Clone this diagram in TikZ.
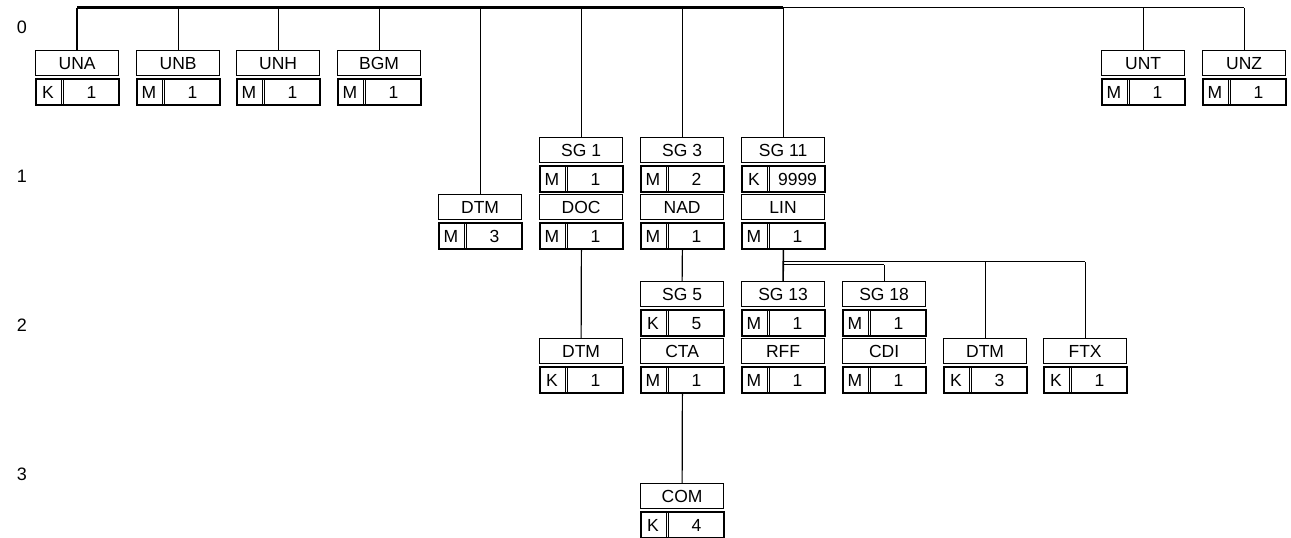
\documentclass[tikz,border=0pt]{standalone}
\usepackage{fontspec}
\setmainfont{Liberation Sans}
\newcommand\bx[6]{% name, x left, y top, label, status, count
  \node[segbox] (#1) at (#2,#3) {#4};
  \node[cntbox] (#1c) at (#2,#3+28) {};
  \draw[divline] ([xshift=26pt]#1c.north west) -- ([xshift=26pt]#1c.south west);
  \draw[divline] ([xshift=28.8pt]#1c.north west) -- ([xshift=28.8pt]#1c.south west);
  \node[btxt] (#1s) at ([xshift=13pt]#1c.west) {#5};
  \node[btxt] (#1n) at ([xshift=56.5pt]#1c.west) {#6};
}
\begin{document}
\begin{tikzpicture}[x=1pt,y=-1pt,
  segbox/.style={draw, line width=1.2pt, minimum width=83pt, minimum height=25pt,
    inner sep=0pt, anchor=north west, font=\fontsize{17.5}{17.5}\selectfont,
    text height=12.5pt, text depth=0pt},
  cntbox/.style={draw, line width=1.8pt, minimum width=83pt, minimum height=26pt,
    inner sep=0pt, anchor=north west},
  divline/.style={line width=1pt},
  btxt/.style={inner sep=0pt, font=\fontsize{17.5}{17.5}\selectfont,
    text height=12.5pt, text depth=0pt},
  lbl/.style={inner sep=0pt, font=\fontsize{18}{18}\selectfont},
  link/.style={line width=1.2pt},
  boldlink/.style={line width=2.2pt}]
\useasboundingbox (0,0) rectangle (1291,538);

% row labels
\node[lbl] (r0) at (22,27) {0};
\node[lbl] (r1) at (22,176) {1};
\node[lbl] (r2) at (22,325) {2};
\node[lbl] (r3) at (22,474) {3};

% row 0
\bx{una}{35}{50}{UNA}{K}{1}
\bx{unb}{136}{50}{UNB}{M}{1}
\bx{unh}{236}{50}{UNH}{M}{1}
\bx{bgm}{337}{50}{BGM}{M}{1}
\bx{unt}{1101}{50}{UNT}{M}{1}
\bx{unz}{1202}{50}{UNZ}{M}{1}

% row 1
\bx{dtma}{438}{194}{DTM}{M}{3}
\bx{sga}{539}{137}{SG 1}{M}{1}
\bx{doc}{539}{194}{DOC}{M}{1}
\bx{sgc}{640}{137}{SG 3}{M}{2}
\bx{nad}{640}{194}{NAD}{M}{1}
\bx{sgk}{741}{137}{SG 11}{K}{9999}
\bx{lin}{741}{194}{LIN}{M}{1}

% row 2
\bx{dtmb}{539}{338}{DTM}{K}{1}
\bx{sge}{640}{281}{SG 5}{K}{5}
\bx{cta}{640}{338}{CTA}{M}{1}
\bx{sgm}{741}{281}{SG 13}{M}{1}
\bx{rff}{741}{338}{RFF}{M}{1}
\bx{sgr}{842}{281}{SG 18}{M}{1}
\bx{cdi}{842}{338}{CDI}{M}{1}
\bx{dtmc}{943}{338}{DTM}{K}{3}
\bx{ftx}{1043}{338}{FTX}{K}{1}

% row 3
\bx{com}{640}{483}{COM}{K}{4}

% top level connectors
\coordinate (t0) at (una.north |- 0,7.5);
\coordinate (t1) at (unz.north |- 0,7.5);
\draw[link] (t0) -- (t1);
\draw[boldlink] (t0) -- (sgk.north |- t0);
\draw[boldlink] (una.north) -- (t0);
\foreach \n in {unb,unh,bgm,dtma,sga,sgc,sgk,unt,unz}
  \draw[link] (\n.north) -- (\n.north |- t0);

% level 1 -> 2
\draw[link] (docc.south) -- (dtmb.north);
\draw[link] (nadc.south) -- (sge.north);
\draw[link] (ctac.south) -- (com.north);

% LIN branch
\coordinate (h1) at ([yshift=-12pt]linc.south);
\coordinate (h2) at ([yshift=-15pt]linc.south);
\draw[line width=1.6pt] (linc.south) -- (sgm.north);
\draw[link] (h1) -- (ftx.north |- h1);
\draw[link] (h2) -- (sgr.north |- h2);
\draw[link] (sgr.north) -- (sgr.north |- h2);
\draw[link] (dtmc.north) -- (dtmc.north |- h1);
\draw[link] (ftx.north) -- (ftx.north |- h1);
\end{tikzpicture}
\end{document}
